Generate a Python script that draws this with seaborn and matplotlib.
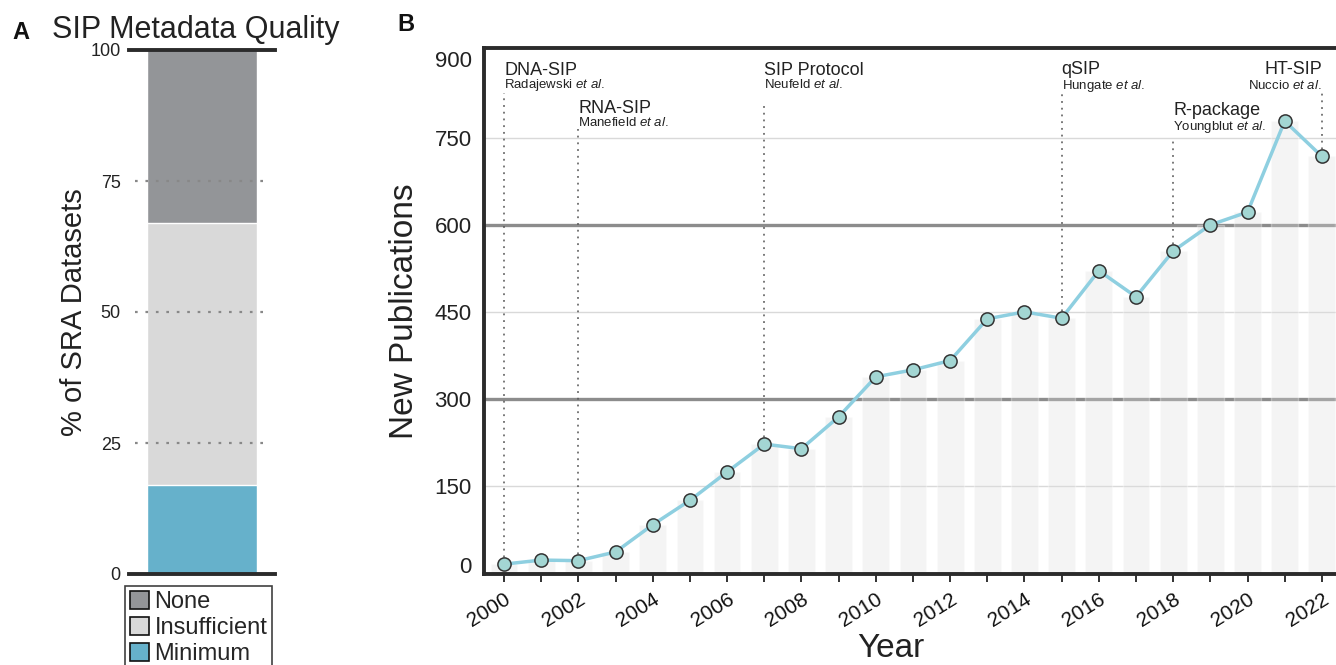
import matplotlib
matplotlib.use("Agg")
import matplotlib.pyplot as plt
from matplotlib.patches import Patch
import seaborn as sns
import numpy as np

# ---------------- data ----------------
quality_categories = ["None", "Insufficient", "Minimum"]
quality_percent = [33, 50, 17]
quality_colors = ["#939598", "#d9d9d9", "#66b1cb"]

years = [2000, 2001, 2002, 2003, 2004, 2005, 2006, 2007, 2008, 2009, 2010, 2011,
         2012, 2013, 2014, 2015, 2016, 2017, 2018, 2019, 2020, 2021, 2022]
publications = [15, 22, 21, 36, 83, 125, 174, 222, 214, 269, 338, 350,
                366, 438, 450, 439, 521, 476, 555, 600, 622, 779, 718]

milestone_years = [2000, 2002, 2007, 2015, 2018, 2022]
milestone_names = ["DNA-SIP", "RNA-SIP", "SIP Protocol", "qSIP", "R-package", "HT-SIP"]
milestone_authors = ["Radajewski", "Manefield", "Neufeld", "Hungate", "Youngblut", "Nuccio"]

# ---------------- layout (positions only) ----------------
ms_line_top = [828, 765, 807, 828, 750, 828]
ms_name_y = [859, 793, 859, 860, 789, 860]
ms_auth_y = [836, 770, 836, 835, 763, 835]
ms_align = ["left", "left", "left", "left", "left", "right"]

sns.set_theme(style="white")
plt.rcParams["font.family"] = ["Liberation Sans", "DejaVu Sans"]
plt.rcParams["mathtext.fontset"] = "custom"
plt.rcParams["mathtext.rm"] = "Liberation Sans"
plt.rcParams["mathtext.it"] = "Liberation Sans:italic"

W, H = 1336, 665
fig = plt.figure(figsize=(W / 100, H / 100), dpi=100)

def fx(px):
    return px / W

def fy(py):
    return 1 - py / H

# ---------------- Panel A ----------------
axA = fig.add_axes([fx(129), fy(574), fx(275) - fx(129), fy(50) - fy(574)])
cum = np.cumsum(quality_percent[::-1])[::-1]  # stacked tops: None=100, Insufficient, Minimum
for top, col in zip(cum, quality_colors):
    sns.barplot(x=["all"], y=[top], color=col, saturation=1, width=0.755, ax=axA, zorder=2)
axA.set_ylim(0, 100)
axA.set_xlim(-0.5, 0.5)
axA.set_yticks([0, 25, 50, 75, 100])
axA.set_yticklabels(["0", "25", "50", "75", "100"], fontsize=13, color="#222")
axA.tick_params(axis="y", length=0, pad=6)
axA.set_xticks([])
axA.set_xlabel("")
axA.set_ylabel("% of SRA Datasets", fontsize=21, color="#222")
axA.yaxis.set_label_coords((88 - 129) / 146, 0.5)
for v in [25, 50, 75]:
    axA.axhline(v, xmin=0.04, xmax=0.955, color="#888888", lw=1.6,
                linestyle=(0, (1.2, 3.5)), zorder=3)
for s in ["left", "right"]:
    axA.spines[s].set_visible(False)
for s in ["top", "bottom"]:
    axA.spines[s].set_linewidth(2.8)
    axA.spines[s].set_color("#2b2b2b")
    axA.spines[s].set_zorder(4)

handles = [Patch(facecolor=c, edgecolor="#111", linewidth=1.2, label=l)
           for c, l in zip(quality_colors, quality_categories)]
leg = fig.legend(handles=handles, loc="upper left", bbox_to_anchor=(fx(125), fy(586)),
                 fontsize=17, frameon=True, fancybox=False, handlelength=0.8,
                 handleheight=0.8, handletextpad=0.25, labelspacing=0.16,
                 borderpad=0.2, borderaxespad=0)
leg.get_frame().set_edgecolor("#111")
leg.get_frame().set_linewidth(1.2)

fig.text(fx(12), fy(39), "A", fontsize=17, fontweight="bold", color="#111", va="baseline")
fig.text(fx(52), fy(38), "SIP Metadata Quality", fontsize=22, color="#222", va="baseline")

# ---------------- Panel B ----------------
axB = fig.add_axes([fx(484), fy(574), 1 - fx(484), fy(48) - fy(574)])
for v in [150, 450, 750]:
    axB.axhline(v, color="#d9d9d9", lw=1.0, zorder=0)
for v in [300, 600]:
    axB.axhline(v, color="#8c8c8c", lw=2.4, zorder=0)

sns.barplot(x=years, y=publications, native_scale=True, width=0.72, color="#dddddd",
            saturation=1, alpha=0.3, ax=axB, zorder=1)

for yr, nm, au, top, ny, ay, ha in zip(milestone_years, milestone_names, milestone_authors,
                                      ms_line_top, ms_name_y, ms_auth_y, ms_align):
    val = publications[years.index(yr)]
    axB.vlines(yr, val, top, color="#555555", lw=1.1, linestyle=(0, (1.2, 3.2)), zorder=2)
    axB.text(yr, ny, nm, fontsize=13, ha=ha, va="baseline", color="#222")
    axB.text(yr, ay, au + r" $\mathit{et\ al.}$", fontsize=9.5, ha=ha, va="baseline", color="#222")

sns.lineplot(x=years, y=publications, color="#8ecfe0", lw=2.5, marker="o", markersize=9.5,
             markerfacecolor="#a3d6d3", markeredgecolor="#333333", markeredgewidth=1.1,
             ax=axB, zorder=5)

axB.set_xlim(1999.46, 2022.38)
axB.set_ylim(-2, 905)
yt = [0, 150, 300, 450, 600, 750, 900]
axB.set_yticks(yt)
axB.set_yticklabels([str(v) for v in yt], fontsize=16, color="#222")
ylabs = axB.get_yticklabels()
ylabs[0].set_va("baseline")
ylabs[-1].set_va("top")
axB.tick_params(axis="y", length=0, pad=9)
axB.set_xticks(years, minor=True)
axB.set_xticks(years[::2])
axB.set_xticklabels([str(y) for y in years[::2]], rotation=32, ha="right",
                    rotation_mode="anchor", fontsize=15, color="#111")
axB.tick_params(axis="x", which="both", length=6, width=1.3, color="#222",
                bottom=True, pad=5)
axB.set_ylabel("New Publications", fontsize=24, color="#222")
axB.yaxis.set_label_coords((420 - 484) / 852, 0.5)
axB.set_xlabel("Year", fontsize=24, color="#222")
axB.xaxis.set_label_coords((891 - 484) / 852, -0.112)
axB.spines["right"].set_visible(False)
for s in ["top", "bottom", "left"]:
    axB.spines[s].set_linewidth(2.8)
    axB.spines[s].set_color("#2b2b2b")
    axB.spines[s].set_zorder(6)

fig.text(fx(397), fy(31), "B", fontsize=17, fontweight="bold", color="#111", va="baseline")

fig.savefig("out.png", dpi=100)
